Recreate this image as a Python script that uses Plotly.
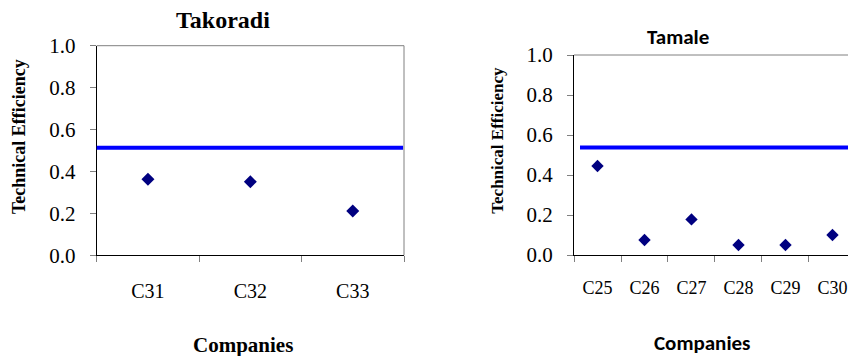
import plotly.graph_objects as go

# Data
tak_companies = ["C31", "C32", "C33"]
tak_te = [0.363, 0.351, 0.211]
tak_mean = 0.513

tam_companies = ["C25", "C26", "C27", "C28", "C29", "C30"]
tam_te = [0.445, 0.075, 0.178, 0.05, 0.05, 0.10]
tam_mean = 0.537

y_ticks = [0.0, 0.2, 0.4, 0.6, 0.8, 1.0]

W, H = 848, 356
SERIF = "Liberation Serif"
SANS = "Carlito"
NAVY = "#000080"
BLUE = "#0000FF"

def px_x(v):
    return v / W

def px_y(v):
    return 1 - v / H

fig = go.Figure()

fig.add_trace(go.Scatter(
    x=tak_companies, y=tak_te, mode="markers",
    marker=dict(symbol="diamond", size=10, color=NAVY),
    xaxis="x", yaxis="y", showlegend=False, cliponaxis=False))

fig.add_trace(go.Scatter(
    x=tam_companies, y=tam_te, mode="markers",
    marker=dict(symbol="diamond", size=9.5, color=NAVY),
    xaxis="x2", yaxis="y2", showlegend=False, cliponaxis=False))

common_y = dict(range=[0, 1], tickvals=y_ticks, tickformat=".1f",
                ticks="outside", ticklen=6, tickcolor="#808080",
                showline=True, linecolor="#000000", linewidth=1,
                showgrid=False, zeroline=False, automargin=False,
                tickfont=dict(family=SERIF, size=21, color="#000000"))

fig.update_layout(
    template="none",
    width=W, height=H,
    margin=dict(l=0, r=0, t=0, b=0, autoexpand=False),
    paper_bgcolor="white", plot_bgcolor="white",
    xaxis=dict(domain=[px_x(96.7), px_x(404)], type="category",
               categoryorder="array", categoryarray=tak_companies,
               range=[-0.5, 2.5], tickson="boundaries",
               ticks="outside", ticklen=6, tickcolor="#808080",
               showline=True, linecolor="#000000", linewidth=1,
               showgrid=False, anchor="y", ticklabelstandoff=18,
               automargin=False,
               tickfont=dict(family=SERIF, size=20, color="#000000")),
    yaxis=dict(domain=[px_y(255.3), px_y(45.7)], anchor="x",
               ticklabelstandoff=10, **common_y),
    xaxis2=dict(domain=[px_x(574), 1.0], type="category",
                categoryorder="array", categoryarray=tam_companies,
                range=[-0.5, 5.5 - 8 / 47.1], tickson="boundaries",
                ticks="outside", ticklen=6, tickcolor="#808080",
                showline=True, linecolor="#000000", linewidth=1,
                showgrid=False, anchor="y2", ticklabelstandoff=16,
                automargin=False,
                tickfont=dict(family=SERIF, size=18, color="#000000")),
    yaxis2=dict(domain=[px_y(255), px_y(55)], anchor="x2",
                ticklabelstandoff=10, **common_y),
)

# plot-area borders (gray top / right)
fig.add_shape(type="line", xref="x domain", yref="y domain",
              x0=0, x1=1, y0=1, y1=1, line=dict(color="#808080", width=1))
fig.add_shape(type="line", xref="x domain", yref="y domain",
              x0=1, x1=1, y0=0, y1=1, line=dict(color="#808080", width=1))
fig.add_shape(type="line", xref="x2 domain", yref="y2 domain",
              x0=0, x1=1, y0=1, y1=1, line=dict(color="#808080", width=1))

# mean lines
fig.add_shape(type="line", xref="x domain", yref="y",
              x0=0, x1=0.997, y0=tak_mean, y1=tak_mean,
              line=dict(color=BLUE, width=4))
fig.add_shape(type="line", xref="x2 domain", yref="y2",
              x0=6 / 274, x1=1, y0=tam_mean, y1=tam_mean,
              line=dict(color=BLUE, width=4))

def label(text, x, y, family, size, angle=0):
    fig.add_annotation(text=text, x=px_x(x), y=px_y(y),
                       xref="paper", yref="paper", showarrow=False,
                       xanchor="center", yanchor="middle", textangle=angle,
                       font=dict(family=family, size=size, color="#000000"))

# titles
label("<b>Takoradi</b>", 222.7, 20, SERIF, 24)
label("<b>Tamale</b>", 677.7, 37.3, SANS, 21)
label("<b>Technical Efficiency</b>", 19, 137, SERIF, 18, -90)
label("<b>Technical Efficiency</b>", 496.7, 140, SERIF, 17, -90)
label("<b>Companies</b>", 243, 345, SERIF, 21)
label("<b>Companies</b>", 702.7, 342.7, SANS, 21)

fig.write_html("out.html")
